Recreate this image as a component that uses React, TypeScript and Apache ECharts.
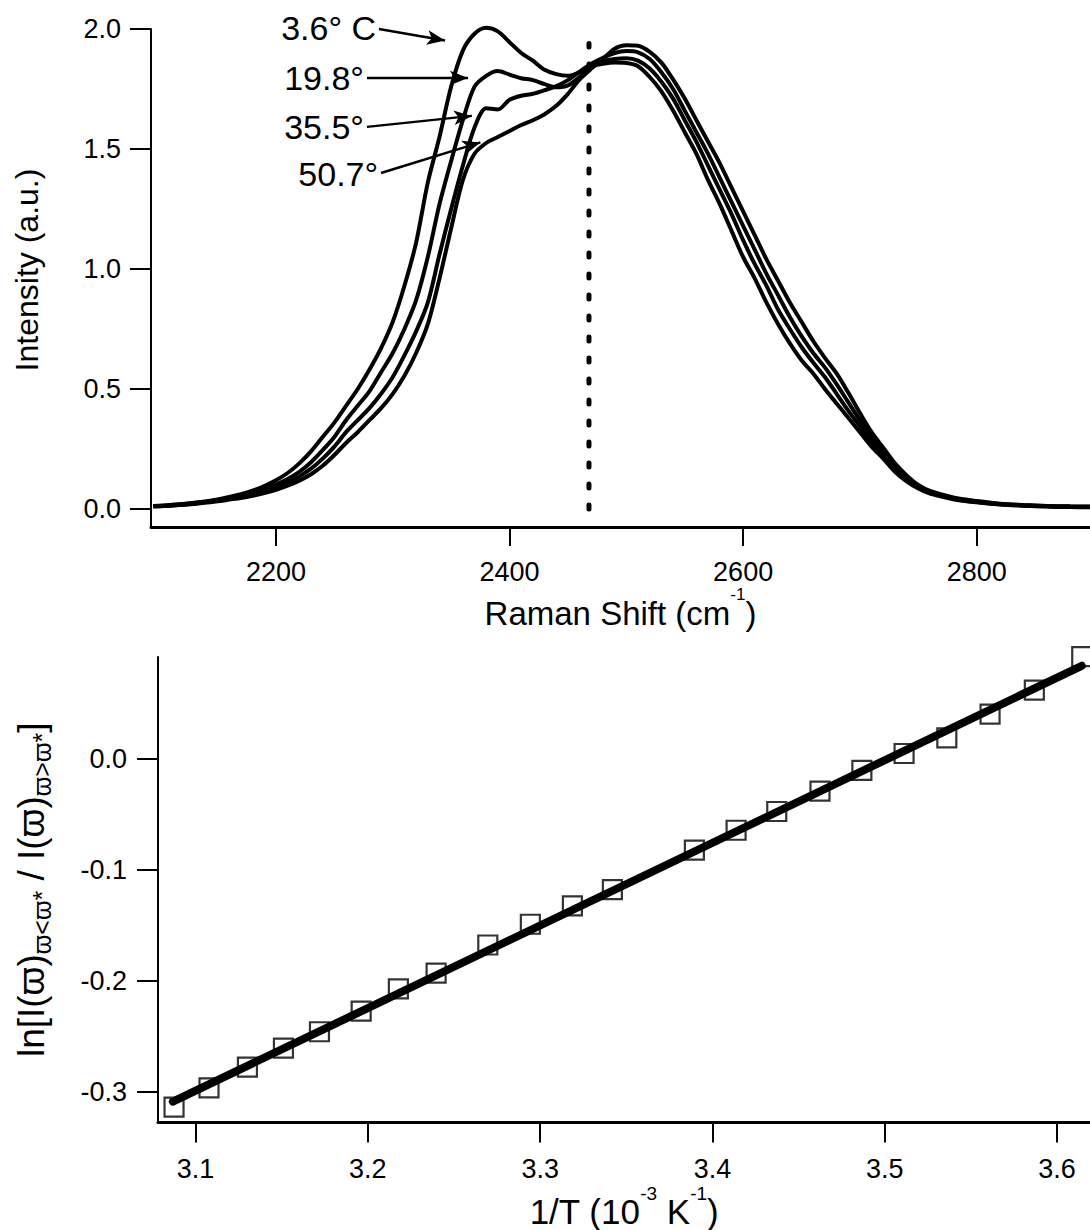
import React, { useEffect, useRef } from "react";
import * as echarts from "echarts";

const FONT = "'Liberation Sans', Arial, Helvetica, sans-serif";

// ---- Top panel: Raman spectra ----
const ramanShift = [
  2095, 2110, 2130, 2150, 2160, 2170, 2180, 2190, 2200, 2210, 2220, 2230, 2240, 2250, 2260, 2270,
  2280, 2290, 2300, 2310, 2320, 2330, 2340, 2350, 2360, 2370, 2380, 2390, 2400, 2410, 2420, 2430,
  2440, 2450, 2460, 2470, 2480, 2490, 2500, 2510, 2520, 2530, 2540, 2550, 2560, 2570, 2580, 2590,
  2600, 2610, 2620, 2630, 2640, 2650, 2660, 2670, 2680, 2690, 2700, 2710, 2720, 2730, 2740, 2750,
  2760, 2780, 2800, 2820, 2840, 2860, 2880, 2897,
];
const int3_6 = [
  0.012, 0.017, 0.026, 0.04, 0.05, 0.062, 0.077, 0.096, 0.12, 0.15, 0.19, 0.24, 0.3, 0.36, 0.43, 0.5,
  0.58, 0.67, 0.78, 0.93, 1.11, 1.36, 1.55, 1.76, 1.91, 1.98, 2.005, 1.99, 1.945, 1.9, 1.868, 1.83,
  1.812, 1.805, 1.82, 1.845, 1.855, 1.86, 1.858, 1.845, 1.8, 1.74, 1.66, 1.57, 1.48, 1.37, 1.27, 1.16,
  1.05, 0.96, 0.86, 0.77, 0.69, 0.62, 0.565, 0.5, 0.44, 0.38, 0.32, 0.26, 0.21, 0.155, 0.115, 0.085,
  0.064, 0.041, 0.028, 0.019, 0.014, 0.01, 0.008, 0.007,
];
const int19_8 = [
  0.012, 0.016, 0.025, 0.037, 0.046, 0.056, 0.068, 0.083, 0.102, 0.125, 0.155, 0.195, 0.245, 0.3, 0.37, 0.43,
  0.49, 0.57, 0.65, 0.75, 0.87, 1.05, 1.27, 1.45, 1.62, 1.76, 1.805, 1.825, 1.81, 1.795, 1.787, 1.77,
  1.757, 1.765, 1.8, 1.845, 1.865, 1.875, 1.878, 1.868, 1.835, 1.78, 1.71, 1.62, 1.53, 1.43, 1.33, 1.23,
  1.12, 1.02, 0.93, 0.83, 0.75, 0.675, 0.61, 0.55, 0.48, 0.41, 0.345, 0.28, 0.225, 0.168, 0.123, 0.09,
  0.068, 0.043, 0.029, 0.02, 0.015, 0.011, 0.009, 0.008,
];
const int35_5 = [
  0.011, 0.015, 0.023, 0.035, 0.043, 0.051, 0.061, 0.074, 0.09, 0.11, 0.135, 0.168, 0.21, 0.26, 0.32, 0.37,
  0.42, 0.48, 0.55, 0.64, 0.74, 0.86, 1.06, 1.25, 1.43, 1.59, 1.67, 1.665, 1.705, 1.722, 1.73, 1.745,
  1.762, 1.787, 1.822, 1.855, 1.88, 1.9, 1.908, 1.903, 1.875, 1.82, 1.75, 1.66, 1.57, 1.48, 1.38, 1.28,
  1.18, 1.08, 0.98, 0.89, 0.8, 0.72, 0.65, 0.59, 0.52, 0.445, 0.37, 0.3, 0.24, 0.178, 0.13, 0.095,
  0.071, 0.045, 0.031, 0.021, 0.016, 0.012, 0.01, 0.009,
];
const int50_7 = [
  0.01, 0.014, 0.021, 0.032, 0.039, 0.046, 0.055, 0.066, 0.08, 0.097, 0.118, 0.145, 0.18, 0.225, 0.275, 0.32,
  0.37, 0.42, 0.48, 0.555, 0.65, 0.77, 0.96, 1.17, 1.37, 1.48, 1.525, 1.55, 1.575, 1.6, 1.62, 1.645,
  1.68, 1.73, 1.79, 1.835, 1.875, 1.918, 1.932, 1.93, 1.905, 1.86, 1.79, 1.71, 1.62, 1.53, 1.44, 1.34,
  1.24, 1.14, 1.04, 0.95, 0.86, 0.78, 0.7, 0.63, 0.565, 0.485, 0.4, 0.32, 0.255, 0.19, 0.14, 0.1,
  0.075, 0.048, 0.033, 0.022, 0.017, 0.013, 0.011, 0.01,
];
const spectraNames = ["3.6° C", "19.8°", "35.5°", "50.7°"];
const spectra = [int3_6, int19_8, int35_5, int50_7];
// annotation arrows: [x, y] in data units
const arrowStart = [
  [2288.2, 2.0],
  [2277.9, 1.796],
  [2277.9, 1.592],
  [2289.9, 1.4],
];
const arrowEnd = [
  [2344.8, 1.952],
  [2364.4, 1.796],
  [2367.8, 1.638],
  [2375.0, 1.5275],
];
const dividerX = [2468, 2468];
const dividerY = [0.0, 1.94];
const topXTicks = [2200, 2400, 2600, 2800];
const topYTicks = [0.0, 0.5, 1.0, 1.5, 2.0];

// ---- Bottom panel: van 't Hoff plot ----
const invT = [
  3.0875, 3.1078, 3.1301, 3.151, 3.1719, 3.1961, 3.2177, 3.2396, 3.2696, 3.2943, 3.3187, 3.3419,
  3.3895, 3.4137, 3.4373, 3.4624, 3.4867, 3.5112, 3.536, 3.5611, 3.5868, 3.6143,
];
const lnRatio = [
  -0.3137, -0.2963, -0.2776, -0.2606, -0.2458, -0.2273, -0.2072, -0.193, -0.1677, -0.149, -0.1324,
  -0.1178, -0.0822, -0.0644, -0.0475, -0.0291, -0.0104, 0.0047, 0.0187, 0.0401, 0.0617, 0.092,
];
const fitX = [3.0868, 3.6143];
const fitY = [-0.3087, 0.0837];
const botXTicks = [3.1, 3.2, 3.3, 3.4, 3.5, 3.6];
const botYTicks = [0.0, -0.1, -0.2, -0.3];

const black = "#000";

function buildOption() {
  const tickLabel = { color: black, fontSize: 27, fontFamily: FONT };
  const spectraSeries = spectra.map((vals, i) => ({
    type: "line",
    name: spectraNames[i],
    xAxisIndex: 0,
    yAxisIndex: 0,
    data: ramanShift.map((x, j) => [x, vals[j]]),
    showSymbol: false,
    symbol: "none",
    smooth: 0.3,
    clip: false,
    lineStyle: { color: black, width: 4 },
    z: 3,
    markLine: {
      silent: true,
      animation: false,
      symbol: ["none", "arrow"],
      symbolSize: [0, 16],
      lineStyle: { color: black, width: 2.4, type: "solid" },
      label: {
        show: true,
        position: "start",
        distance: 3,
        formatter: spectraNames[i],
        color: black,
        fontSize: 34,
        fontFamily: FONT,
      },
      emphasis: { disabled: true },
      data: [
        [
          { coord: arrowStart[i], symbol: "none" },
          { coord: arrowEnd[i], symbol: "arrow", symbolSize: [11, 18] },
        ],
      ],
    },
  }));

  const supRich = (main: number, sup: number) => ({
    m: { fontSize: main, lineHeight: 56, color: black, fontFamily: FONT, verticalAlign: "middle" },
    s: { fontSize: sup, lineHeight: sup, color: black, fontFamily: FONT, verticalAlign: "top" },
  });

  return {
    animation: false,
    backgroundColor: "#fff",
    grid: [
      { left: 151, top: 29, width: 939, height: 498 },
      { left: 158, top: 657, width: 932, height: 471 },
    ],
    xAxis: [
      {
        gridIndex: 0,
        type: "value",
        min: 2093,
        max: 2897,
        axisLine: { show: true, onZero: false, lineStyle: { color: black, width: 3 } },
        axisTick: { show: true, length: 19, lineStyle: { color: black, width: 2 }, customValues: topXTicks },
        axisLabel: { ...tickLabel, margin: 31, customValues: topXTicks, formatter: (v: number) => String(v) },
        splitLine: { show: false },
        name: "{m|Raman Shift (cm}{s|-1}{m|)}",
        nameLocation: "middle",
        nameGap: 50,
        nameTextStyle: { rich: supRich(33, 17) },
      },
      {
        gridIndex: 1,
        type: "value",
        min: 3.0782,
        max: 3.6191,
        axisLine: { show: true, onZero: false, lineStyle: { color: black, width: 3 } },
        axisTick: { show: true, length: 20, lineStyle: { color: black, width: 2 }, customValues: botXTicks },
        axisLabel: { ...tickLabel, margin: 33, customValues: botXTicks, formatter: (v: number) => v.toFixed(1) },
        splitLine: { show: false },
        name: "{m|1/T (10}{s|-3}{m| K}{s|-1}{m|)}",
        nameLocation: "middle",
        nameGap: 54,
        nameTextStyle: { rich: supRich(35, 19) },
      },
    ],
    yAxis: [
      {
        gridIndex: 0,
        type: "value",
        min: -0.075,
        max: 2.0,
        axisLine: { show: true, onZero: false, lineStyle: { color: black, width: 2 } },
        axisTick: { show: true, length: 21, lineStyle: { color: black, width: 2 }, customValues: topYTicks },
        axisLabel: { ...tickLabel, margin: 30, customValues: topYTicks, formatter: (v: number) => v.toFixed(1) },
        splitLine: { show: false },
        name: "Intensity (a.u.)",
        nameLocation: "middle",
        nameRotate: 90,
        nameGap: 108,
        nameTextStyle: { color: black, fontSize: 32, fontFamily: FONT, padding: [0, 0, 0, 16] },
      },
      {
        gridIndex: 1,
        type: "value",
        min: -0.3276,
        max: 0.0916,
        axisLine: { show: true, onZero: false, lineStyle: { color: black, width: 2 } },
        axisTick: { show: true, length: 21, lineStyle: { color: black, width: 2 }, customValues: botYTicks },
        axisLabel: { ...tickLabel, margin: 31, customValues: botYTicks, formatter: (v: number) => v.toFixed(1) },
        splitLine: { show: false },
        name: "{m|ln[I(ϖ)}{s|ϖ<ϖ*}{m| / I(ϖ)}{s|ϖ>ϖ*}{m|]}",
        nameLocation: "middle",
        nameRotate: 90,
        nameGap: 104,
        nameTextStyle: {
          rich: {
            m: { fontSize: 37, lineHeight: 46, color: black, fontFamily: FONT, verticalAlign: "middle" },
            s: { fontSize: 25, lineHeight: 22, color: black, fontFamily: FONT, verticalAlign: "bottom" },
          },
        },
      },
    ],
    series: [
      ...spectraSeries,
      {
        type: "line",
        name: "divider",
        xAxisIndex: 0,
        yAxisIndex: 0,
        data: dividerX.map((x, j) => [x, dividerY[j]]),
        showSymbol: false,
        symbol: "none",
        lineStyle: { color: black, width: 5, type: [4, 17], cap: "round" },
        z: 2,
      },
      {
        type: "scatter",
        name: "data",
        xAxisIndex: 1,
        yAxisIndex: 1,
        data: invT.map((x, j) => [x, lnRatio[j]]),
        symbol: "rect",
        symbolSize: 19,
        clip: false,
        itemStyle: { color: "rgba(0,0,0,0)", borderColor: black, borderWidth: 2.2 },
        z: 2,
      },
      {
        type: "line",
        name: "fit",
        xAxisIndex: 1,
        yAxisIndex: 1,
        data: fitX.map((x, j) => [x, fitY[j]]),
        showSymbol: false,
        symbol: "none",
        clip: false,
        lineStyle: { color: black, width: 8, cap: "round" },
        z: 3,
      },
    ],
  };
}

export default function App() {
  const ref = useRef<HTMLDivElement>(null);
  useEffect(() => {
    if (!ref.current) return;
    const chart = echarts.init(ref.current, null, { renderer: "svg" });
    chart.setOption(buildOption() as any);
    return () => chart.dispose();
  }, []);
  return (
    <div
      ref={ref}
      style={{ position: "absolute", left: 0, top: 0, width: 1090, height: 1230, background: "#fff" }}
    />
  );
}
